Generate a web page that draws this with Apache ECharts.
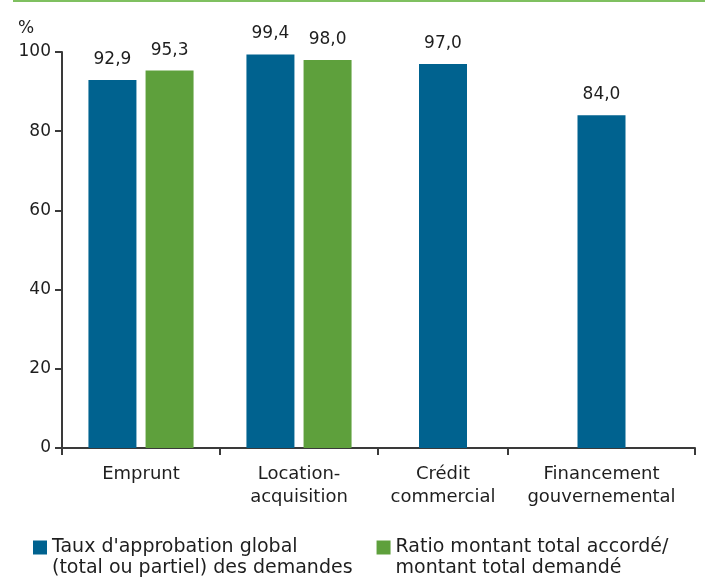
<!DOCTYPE html>
<html>

<head>
    <meta charset="utf-8">
    <title>Taux d'approbation</title>
    <style>
        body { margin: 0; background: #fff; }
    </style>
</head>

<body>
    <div id="main" style="width: 705px;height:577px;"></div>

    <script src="https://cdn.jsdelivr.net/npm/echarts@6.0.0/dist/echarts.min.js"></script>
    <script>
        // donnees
        var categories = ['Emprunt', 'Location-\nacquisition', 'Crédit\ncommercial', 'Financement\ngouvernemental'];
        var taux = [92.9, 99.4, 97.0, 84.0];
        var ratio = [95.3, 98.0, null, null];
        var seriesNames = ["Taux d'approbation global\n(total ou partiel) des demandes", 'Ratio montant total accordé/\nmontant total demandé'];
        var yTicks = [0, 20, 40, 60, 80, 100];

        // les categories ne sont pas de la meme largeur dans l'original
        var groups = [[0, 1], [2], [3]];
        var groupLeft = [62, 378, 508];
        var groupWidth = [316, 130, 187];

        var BLUE = '#00628f', GREEN = '#5ea03c', AXIS = '#3a3a3a', TXT = '#1e1e1e';
        var FONT = 'DejaVu Sans';

        var myChart = echarts.init(document.getElementById('main'));

        function fmt(p) {
            return p.value.toFixed(1).replace('.', ',');
        }

        var grids = [], xAxes = [], yAxes = [], series = [];
        groups.forEach(function (idx, g) {
            grids.push({ left: groupLeft[g], width: groupWidth[g], top: 52, bottom: 129 });
            xAxes.push({
                type: 'category',
                gridIndex: g,
                data: idx.map(function (i) { return categories[i]; }),
                axisLine: { show: true, lineStyle: { color: AXIS, width: 2 } },
                axisTick: { show: true, length: 7, lineStyle: { color: AXIS, width: 2 } },
                axisLabel: { color: TXT, fontSize: 18, fontFamily: FONT, lineHeight: 23, margin: 15, interval: 0 }
            });
            yAxes.push({
                type: 'value',
                gridIndex: g,
                min: yTicks[0],
                max: yTicks[yTicks.length - 1],
                interval: 20,
                show: g === 0,
                splitLine: { show: false },
                axisLine: { show: true, lineStyle: { color: AXIS, width: 2 } },
                axisTick: { show: true, length: 7, lineStyle: { color: AXIS, width: 2 } },
                axisLabel: { color: TXT, fontSize: 17, fontFamily: FONT, margin: 11 }
            });
            var label = { show: true, position: 'top', distance: 12, color: TXT, fontSize: 17, fontFamily: FONT, formatter: fmt };
            series.push({
                name: seriesNames[0],
                type: 'bar',
                xAxisIndex: g,
                yAxisIndex: g,
                barWidth: 48,
                barGap: '19%',
                itemStyle: { color: BLUE },
                label: label,
                data: idx.map(function (i) { return taux[i]; })
            });
            var r = idx.map(function (i) { return ratio[i]; });
            if (r.some(function (v) { return v != null; })) {
                series.push({
                    name: seriesNames[1],
                    type: 'bar',
                    xAxisIndex: g,
                    yAxisIndex: g,
                    barWidth: 48,
                    barGap: '19%',
                    itemStyle: { color: GREEN },
                    label: label,
                    data: r
                });
            }
        });

        var option = {
            animation: false,
            title: {
                text: '%',
                left: 13,
                top: 15,
                textStyle: { color: TXT, fontSize: 17, fontWeight: 'normal', fontFamily: FONT }
            },
            graphic: [{
                type: 'line',
                shape: { x1: 13, y1: 1, x2: 705, y2: 1 },
                style: { stroke: '#7fc060', lineWidth: 2 }
            }],
            legend: {
                data: seriesNames,
                left: 33,
                top: 516,
                padding: 0,
                itemGap: 24,
                itemWidth: 14,
                itemHeight: 14,
                icon: 'rect',
                // ligne vide devant pour aligner la 1re ligne sur le carre
                formatter: function (name) { return '\n' + name; },
                textStyle: { color: TXT, fontSize: 19, fontFamily: FONT, lineHeight: 21 }
            },
            grid: grids,
            xAxis: xAxes,
            yAxis: yAxes,
            series: series
        };
        myChart.setOption(option);
    </script>
</body>

</html>
